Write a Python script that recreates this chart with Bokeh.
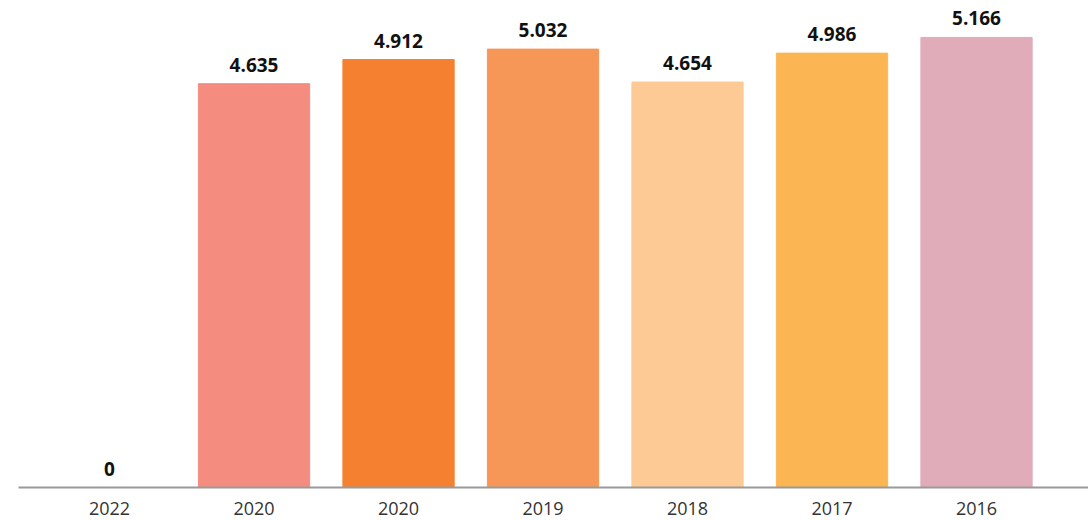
from bokeh.plotting import figure
from bokeh.models import ColumnDataSource, FixedTicker, Range1d
from bokeh.core.properties import value
from bokeh.embed import file_html
from bokeh.resources import INLINE

years = ["2022", "2020", "2020", "2019", "2018", "2017", "2016"]
values = [0, 4.635, 4.912, 5.032, 4.654, 4.986, 5.166]
labels = ["0", "4.635", "4.912", "5.032", "4.654", "4.986", "5.166"]
colors = ["#F48C80", "#F48C80", "#F58130", "#F69757", "#FDCA96", "#FBB653", "#E0ACBA"]

xs = list(range(len(years)))
src = ColumnDataSource(dict(x=xs, top=values, label=labels, color=colors))

p = figure(width=1088, height=520, output_backend="svg", toolbar_location=None,
           x_range=Range1d(-0.63, 6.775), y_range=Range1d(0, 5.59),
           min_border_left=18, min_border_right=0, min_border_top=0, min_border_bottom=33)
p.outline_line_color = None
p.grid.visible = False
p.yaxis.visible = False

p.vbar(x="x", top="top", width=0.77, bottom=0, color="color", source=src)
p.text(x="x", y="top", text="label", source=src, text_align="center", text_baseline="bottom",
       y_offset=-12, text_font=value("Open Sans"), text_font_style="bold",
       text_font_size="19px", text_color="#111111")

ax = p.xaxis[0]
ax.ticker = FixedTicker(ticks=xs)
ax.major_label_overrides = {i: y for i, y in zip(xs, years)}
ax.major_tick_line_color = None
ax.major_tick_out = 0
ax.major_tick_in = 0
ax.minor_tick_line_color = None
ax.minor_tick_out = 0
ax.axis_line_color = "#9a9a9a"
ax.axis_line_width = 2
ax.major_label_text_font = "Open Sans"
ax.major_label_text_font_size = "18px"
ax.major_label_text_color = "#333333"
ax.major_label_standoff = 14

open("out.html", "w").write(file_html(p, INLINE))
